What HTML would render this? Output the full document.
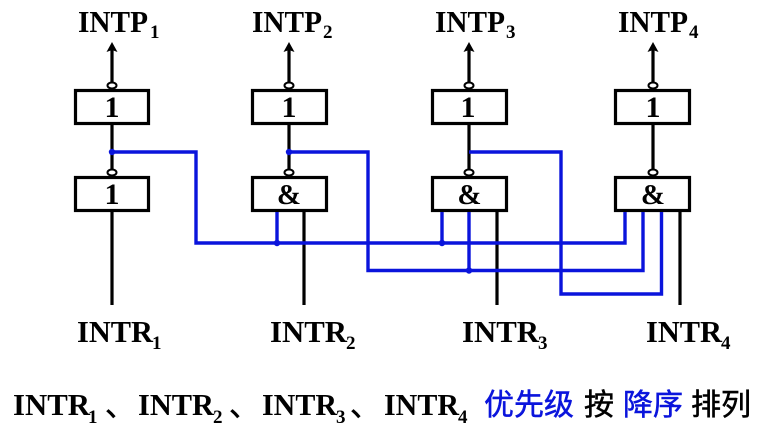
<!DOCTYPE html>
<html><head><meta charset="utf-8"><style>
html,body{margin:0;padding:0;background:#fff}
svg{display:block}
text{font-family:"Liberation Serif","Noto Serif CJK SC",serif;font-weight:bold;fill:#000}
.m{font-size:31px}
.s{font-size:19px}
.g{font-size:30px;text-anchor:middle}
.a{font-size:29px;text-anchor:middle}
.c{font-family:"Liberation Sans","Noto Sans CJK SC",sans-serif;font-weight:normal;font-size:30px;stroke:#000;stroke-width:.5px}
.b{fill:#0a14dc;stroke:#0a14dc}
</style></head><body>
<svg width="761" height="431" viewBox="0 0 761 431" xmlns="http://www.w3.org/2000/svg">
<g fill="none" stroke="#000" stroke-width="3.200">
<path d="M112 82V50M289 82V50M469 82V50M653 82V50"/>
<path d="M112 125V170M289 125V170M469 125V170M653 125V170"/>
<path d="M112 212V305M304 212V305M497 212V305M680 212V305"/>
<rect x="75.500" y="90.500" width="73" height="33"/><rect x="252.500" y="90.500" width="74" height="33"/><rect x="432.500" y="90.500" width="74" height="33"/><rect x="615.500" y="90.500" width="74" height="33"/>
<rect x="75.500" y="177.500" width="73" height="33"/><rect x="252.500" y="177.500" width="74" height="33"/><rect x="432.500" y="177.500" width="74" height="33"/><rect x="615.500" y="177.500" width="74" height="33"/>
</g>
<g fill="#fff" stroke="#000" stroke-width="2">
<ellipse cx="112" cy="85.500" rx="4.500" ry="3"/><ellipse cx="289" cy="85.500" rx="4.500" ry="3"/><ellipse cx="469" cy="85.500" rx="4.500" ry="3"/><ellipse cx="653" cy="85.500" rx="4.500" ry="3"/>
<ellipse cx="112" cy="172.500" rx="4.500" ry="3"/><ellipse cx="289" cy="172.500" rx="4.500" ry="3"/><ellipse cx="469" cy="172.500" rx="4.500" ry="3"/><ellipse cx="653" cy="172.500" rx="4.500" ry="3"/>
</g>
<g fill="#000">
<path d="M112 42l-5.500 10 5.500-2 5.500 2zM289 42l-5.500 10 5.500-2 5.500 2zM469 42l-5.500 10 5.500-2 5.500 2zM653 42l-5.500 10 5.500-2 5.500 2z"/>
</g>
<g fill="none" stroke="#0a14dc" stroke-width="3.400">
<path d="M112 152H196V243H625V212"/>
<path d="M289 152H368V270.500H643V212"/>
<path d="M469 152H561V294H661.500V212"/>
<path d="M277 212V243M442 212V243M469 212V270.500"/>
</g>
<g fill="#0a14dc">
<circle cx="112" cy="152" r="3.200"/><circle cx="289" cy="152" r="3.200"/><circle cx="277" cy="243" r="3.200"/><circle cx="442" cy="243" r="3.200"/><circle cx="469" cy="270.500" r="3.200"/>
</g>
<text class="g" x="112" y="117">1</text><text class="g" x="289" y="117">1</text><text class="g" x="468" y="117">1</text><text class="g" x="653" y="117">1</text>
<text class="g" x="112" y="204">1</text><text class="a" x="289" y="204">&amp;</text><text class="a" x="469.500" y="204">&amp;</text><text class="a" x="653" y="204">&amp;</text>
<text class="m" x="78" y="32" textLength="70" lengthAdjust="spacingAndGlyphs">INTP</text><text class="s" x="150" y="38">1</text>
<text class="m" x="252" y="32" textLength="70" lengthAdjust="spacingAndGlyphs">INTP</text><text class="s" x="323" y="38">2</text>
<text class="m" x="435" y="32" textLength="70" lengthAdjust="spacingAndGlyphs">INTP</text><text class="s" x="506" y="38">3</text>
<text class="m" x="618" y="32" textLength="70" lengthAdjust="spacingAndGlyphs">INTP</text><text class="s" x="689" y="38">4</text>
<text class="m" x="77" y="342" textLength="76" lengthAdjust="spacingAndGlyphs">INTR</text><text class="s" x="152" y="349">1</text>
<text class="m" x="270" y="342" textLength="77" lengthAdjust="spacingAndGlyphs">INTR</text><text class="s" x="346" y="349">2</text>
<text class="m" x="462" y="342" textLength="77" lengthAdjust="spacingAndGlyphs">INTR</text><text class="s" x="538" y="349">3</text>
<text class="m" x="646" y="342" textLength="76" lengthAdjust="spacingAndGlyphs">INTR</text><text class="s" x="721" y="349">4</text>
<text class="m" x="13" y="415" textLength="77" lengthAdjust="spacingAndGlyphs">INTR</text><text class="s" x="88" y="423">1</text><text class="c" x="105" y="416">、</text>
<text class="m" x="138" y="415" textLength="76" lengthAdjust="spacingAndGlyphs">INTR</text><text class="s" x="213" y="423">2</text><text class="c" x="229" y="416">、</text>
<text class="m" x="262" y="415" textLength="75" lengthAdjust="spacingAndGlyphs">INTR</text><text class="s" x="336" y="423">3</text><text class="c" x="350" y="416">、</text>
<text class="m" x="384" y="415" textLength="75" lengthAdjust="spacingAndGlyphs">INTR</text><text class="s" x="458" y="423">4</text>
<text class="c b" x="484" y="415">优先级</text><text class="c" x="584" y="415">按</text><text class="c b" x="623" y="415">降序</text><text class="c" x="691" y="415">排列</text>
</svg>
</body></html>
